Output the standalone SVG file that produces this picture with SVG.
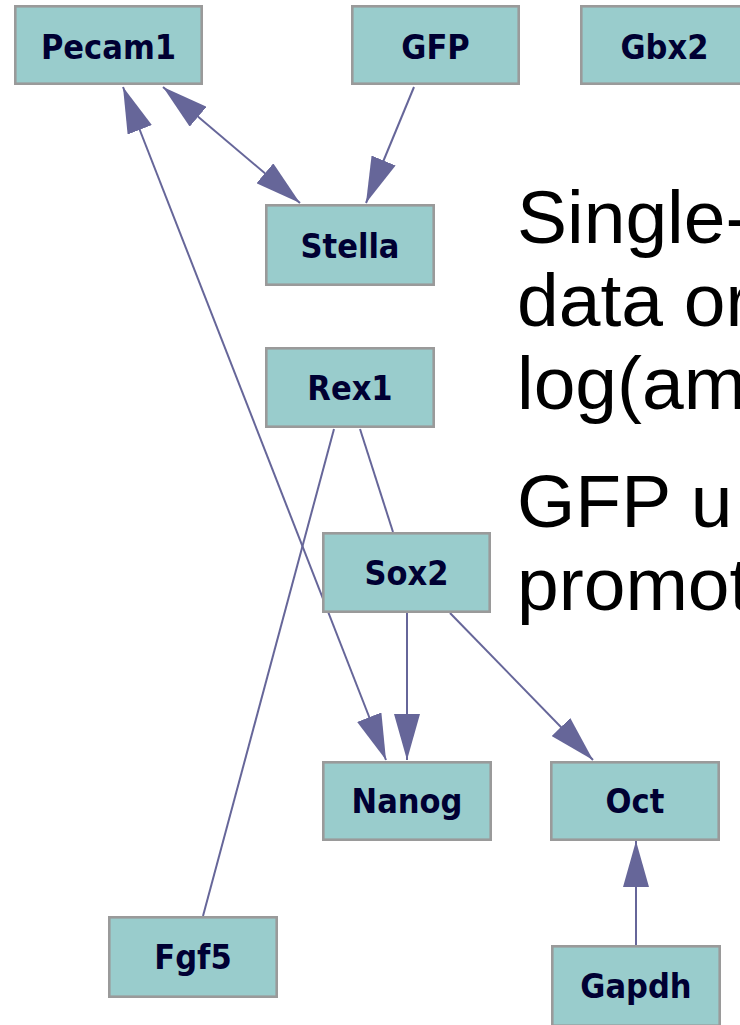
<svg xmlns="http://www.w3.org/2000/svg" width="740" height="1025" viewBox="0 0 740 1025">
<style>
.node rect{fill:#99cccc;stroke:#9a9a9a;stroke-width:2.6}
.node text{font-family:'DejaVu Sans Condensed','DejaVu Sans',sans-serif;font-stretch:condensed;font-weight:bold;font-size:34px;fill:#000033;text-anchor:middle}
.edges line{stroke:#666699;stroke-width:2}
.note{font-family:'Liberation Sans',Arial,sans-serif;font-size:75px;fill:#000}
</style>
<defs>
<marker id="ah" viewBox="0 0 46 26" refX="46" refY="13" markerWidth="46" markerHeight="26" markerUnits="userSpaceOnUse" orient="auto-start-reverse">
<path d="M0,0 L46,13 L0,26 z" fill="#666699"/>
</marker>
</defs>
<rect width="740" height="1025" fill="#fff"/>
<g id="connectors" class="edges">
<line x1="163" y1="87" x2="300" y2="203" marker-start="url(#ah)" marker-end="url(#ah)"/>
<line x1="414" y1="87" x2="366" y2="203" marker-end="url(#ah)"/>
<line x1="123" y1="87" x2="386" y2="760" marker-start="url(#ah)" marker-end="url(#ah)"/>
<line x1="334" y1="429" x2="203" y2="916"/>
<line x1="360" y1="429" x2="393" y2="532"/>
<line x1="407" y1="613" x2="407" y2="760" marker-end="url(#ah)"/>
<line x1="450" y1="613" x2="593" y2="760" marker-end="url(#ah)"/>
<line x1="636" y1="945" x2="636" y2="841" marker-end="url(#ah)"/>
</g>
<g id="Pecam1" class="node"><rect x="15.3" y="6.3" width="186.4" height="77.4"/><text x="108.5" y="59">Pecam1</text></g>
<g id="GFP" class="node"><rect x="352.3" y="6.3" width="166.4" height="77.4"/><text x="435.5" y="59">GFP</text></g>
<g id="Gbx2" class="node"><rect x="581.3" y="6.3" width="166.4" height="77.4"/><text x="664.5" y="59">Gbx2</text></g>
<g id="Stella" class="node"><rect x="266.3" y="205.3" width="167.4" height="79.4"/><text x="350" y="258">Stella</text></g>
<g id="Rex1" class="node"><rect x="266.3" y="348.3" width="167.4" height="78.4"/><text x="350" y="400">Rex1</text></g>
<g id="Sox2" class="node"><rect x="323.3" y="533.3" width="166.4" height="78.4"/><text x="406.5" y="585">Sox2</text></g>
<g id="Nanog" class="node"><rect x="323.3" y="762.3" width="167.4" height="77.4"/><text x="407" y="813">Nanog</text></g>
<g id="Oct" class="node"><rect x="551.3" y="762.3" width="167.4" height="77.4"/><text x="635" y="813">Oct</text></g>
<g id="Fgf5" class="node"><rect x="109.3" y="917.3" width="167.4" height="79.4"/><text x="193" y="969">Fgf5</text></g>
<g id="Gapdh" class="node"><rect x="552.3" y="946.3" width="167.4" height="79.4"/><text x="636" y="998">Gapdh</text></g>
<g id="notes">
<text class="note" x="517" y="243">Single-</text>
<text class="note" x="517" y="326">data or</text>
<text class="note" x="517" y="409">log(am</text>
<text class="note" x="517" y="527">GFP u</text>
<text class="note" x="517" y="610">promot</text>
</g>
</svg>
